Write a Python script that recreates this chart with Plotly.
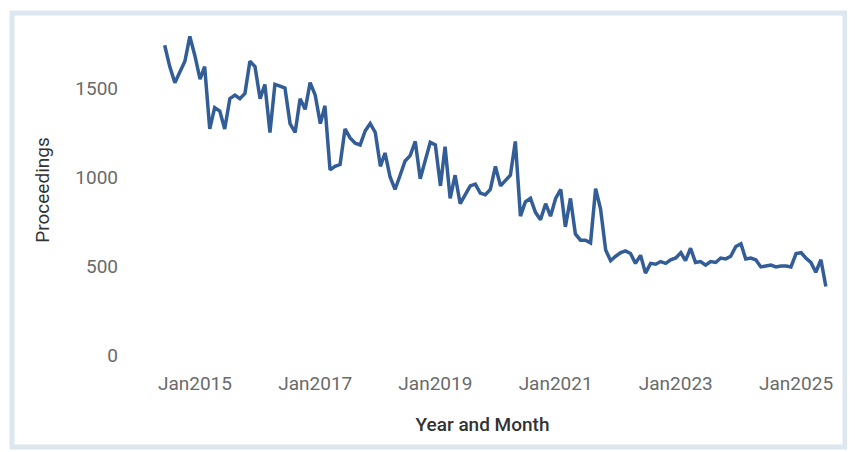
import pandas as pd
import plotly.graph_objects as go

start_month = "2014-07-01"
proceedings = [
    1740, 1620, 1530, 1590, 1650, 1790,
    1680, 1550, 1620, 1270, 1390, 1370, 1270, 1440, 1460, 1440, 1470, 1650,
    1620, 1440, 1520, 1250, 1520, 1510, 1500, 1300, 1250, 1440, 1380, 1530,
    1460, 1300, 1400, 1040, 1060, 1070, 1270, 1220, 1190, 1180, 1260, 1300,
    1250, 1060, 1135, 1000, 930, 1010, 1090, 1120, 1200, 990, 1090, 1195,
    1180, 950, 1170, 880, 1010, 850, 900, 950, 960, 910, 900, 930,
    1060, 950, 980, 1010, 1200, 780, 860, 880, 800, 760, 850, 780,
    880, 930, 720, 880, 680, 645, 645, 630, 935, 820, 590, 530,
    555, 575, 585, 570, 515, 560, 460, 515, 510, 525, 515, 535,
    545, 575, 530, 600, 520, 525, 505, 525, 520, 545, 540, 555,
    610, 625, 540, 545, 535, 495, 500, 505, 495, 500, 500, 495,
    570, 575, 545, 520, 465, 535, 385,
]
months = pd.date_range(start_month, periods=len(proceedings), freq="MS")

y_ticks = [0, 500, 1000, 1500]
x_tick_start = "2015-01-01"

fig = go.Figure(
    go.Scatter(
        x=months, y=proceedings, mode="lines",
        line=dict(color="#335d96", width=3.5),
        hoverinfo="skip",
    )
)

font_family = "Roboto, 'Open Sans', sans-serif"

# page body has an 8px margin, so the figure is sized/offset to compensate
fig.update_layout(
    width=847, height=444,
    margin=dict(l=117, r=15, t=12, b=92),
    paper_bgcolor="white", plot_bgcolor="white",
    showlegend=False,
    font=dict(family=font_family, color="#6a6a6a", size=19),
    xaxis=dict(
        type="date", automargin=False,
        range=["2013-11-02", "2025-09-25"],
        tick0=x_tick_start, dtick="M24", tickformat="%b%Y",
        showgrid=False, zeroline=False, showline=False,
        ticks="", ticklabelstandoff=10,
        tickfont=dict(size=19, color="#6a6a6a"),
        title=dict(text="Year and Month", standoff=23,
                   font=dict(size=19, color="#333333", weight=500)),
    ),
    yaxis=dict(
        automargin=False,
        range=[-28, 1882],
        tickvals=y_ticks,
        showgrid=False, zeroline=False, showline=False,
        ticks="", ticklabelstandoff=6,
        tickfont=dict(size=19, color="#6a6a6a"),
        title=dict(text="Proceedings", standoff=20,
                   font=dict(size=19, color="#333333")),
    ),
    shapes=[dict(
        type="rect", xref="paper", yref="paper",
        x0=-0.158, x1=1.007, y0=-0.256, y1=1.0206,
        line=dict(color="#dde7ef", width=5),
        fillcolor="rgba(0,0,0,0)", layer="below",
    )],
)

fig.write_html("out.html")
